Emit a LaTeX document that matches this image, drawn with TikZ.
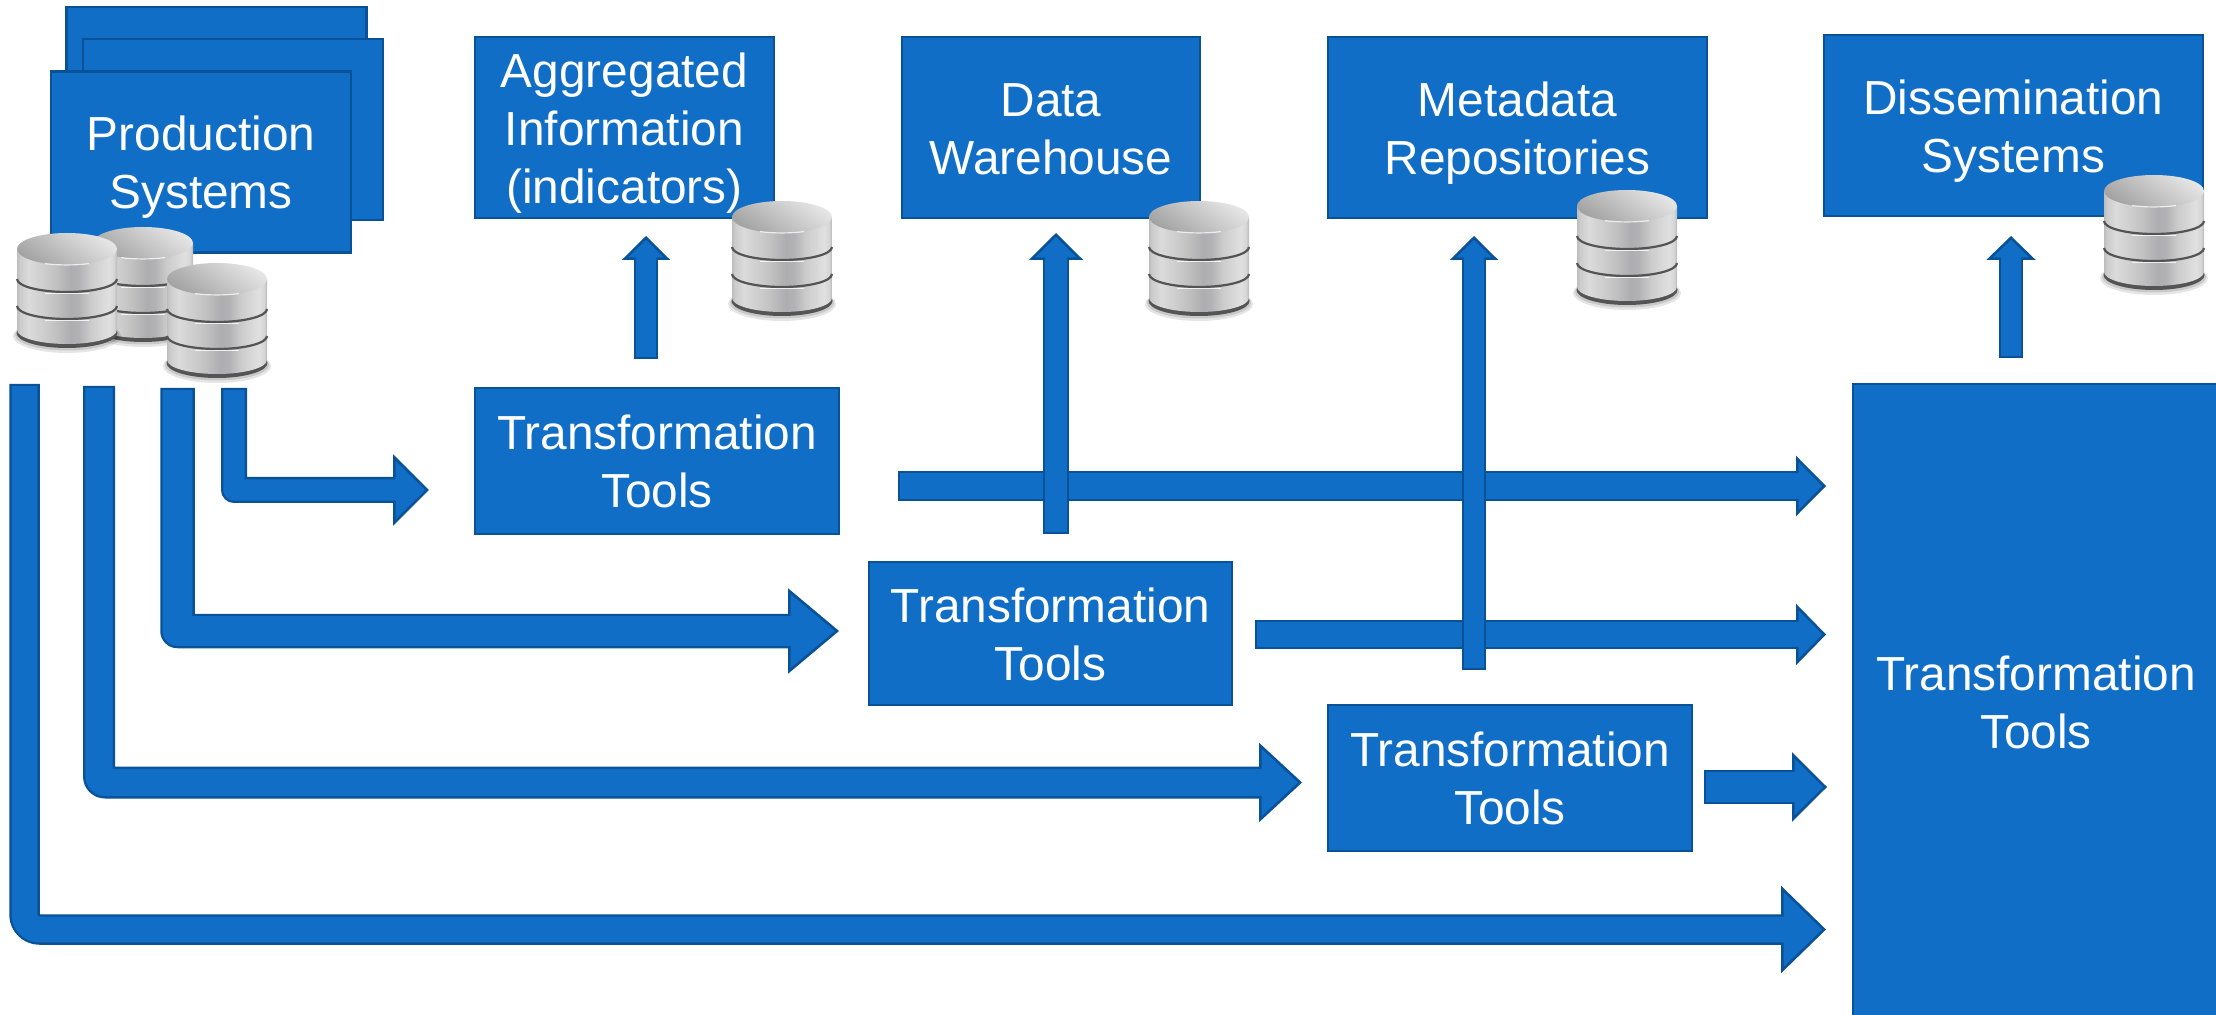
\documentclass[tikz,border=0pt]{standalone}
\usepackage{fontspec}
\setmainfont{Liberation Sans}
\usetikzlibrary{arrows.meta,positioning}
\definecolor{boxblue}{RGB}{16,110,198}
\definecolor{edgeblue}{RGB}{10,82,152}
\definecolor{dbdark}{gray}{0.33}
\definecolor{dblight}{gray}{0.9}
\definecolor{dbmid}{gray}{0.64}
\pgfdeclarehorizontalshading{dbbody}{100bp}{
  rgb(0bp)=(0.74,0.74,0.74);
  rgb(25bp)=(0.74,0.74,0.74);
  rgb(26.5bp)=(0.80,0.80,0.80);
  rgb(31bp)=(0.86,0.86,0.86);
  rgb(44bp)=(0.76,0.76,0.76);
  rgb(52bp)=(0.68,0.68,0.69);
  rgb(56bp)=(0.70,0.70,0.71);
  rgb(62bp)=(0.80,0.80,0.80);
  rgb(71bp)=(0.88,0.88,0.88);
  rgb(73.5bp)=(0.84,0.84,0.84);
  rgb(75bp)=(0.72,0.72,0.72);
  rgb(100bp)=(0.72,0.72,0.72)}
\newcommand\txstrut{\rule[-5.7pt]{0pt}{29pt}}
\tikzset{
  x=0.5pt,y=-0.5pt,
  box/.style n args={2}{draw=edgeblue,fill=boxblue,line width=1.3pt,text=white,
    align=center,inner sep=0pt,outer sep=0pt,
    minimum width=#1*0.5pt,minimum height=#2*0.5pt,
    font=\fontsize{23.9}{29}\selectfont},
  dbicon/.pic={
    \fill[black,opacity=.10] (50,103) ellipse[x radius=54,y radius=17];
    \fill[black,opacity=.12] (50,102) ellipse[x radius=52,y radius=15.5];
    \fill[dbdark] (50,100) ellipse[x radius=50.5,y radius=15];
    \path[shading=dbbody] (0,16) -- (0,97) arc[start angle=180,end angle=0,x radius=50,y radius=14] -- (100,16) -- cycle;
    \draw[dbdark,line width=1.1pt] (0,46) arc[start angle=180,end angle=0,x radius=50,y radius=13];
    \draw[dbdark,line width=1.1pt] (0,73) arc[start angle=180,end angle=0,x radius=50,y radius=13];
    \draw[white,opacity=.8,line width=.5pt] (28,61) -- (72,61);
    \draw[white,opacity=.8,line width=.5pt] (28,88) -- (72,88);
    \path[top color=dblight,bottom color=dbmid,shading angle=-35] (50,16) ellipse[x radius=50,y radius=16];
    \draw[white,opacity=.75,line width=.6pt] (28,30.6) .. controls (42,32.4) and (58,32.4) .. (72,30.6);
  }
}
\newcommand\blockarrow[5]{%
  \pgfmathsetmacro\bawid{#1*0.5}\pgfmathsetmacro\bainn{(#1-4.6)*0.5}%
  \pgfmathsetmacro\balen{#2*0.5}\pgfmathsetmacro\bahd{#3*0.5}%
  \pgfmathsetmacro\barad{#4*0.5+0.01}\pgfmathsetmacro\bashort{(#2-3)*0.5}%
  \draw[draw=edgeblue,line width=\bawid pt,line join=round,rounded corners=\barad pt,
    -{Triangle[length=\balen pt,width=\bahd pt,fill=boxblue,line width=1.3pt]}] #5;
  \draw[draw=boxblue,line width=\bainn pt,line join=round,rounded corners=\barad pt,
    shorten <=1.1pt,shorten >=\bashort pt] #5;
}
\begin{document}
\begin{tikzpicture}
\useasboundingbox (0,0) rectangle (2216,1015);
% boxes
\node[box={300}{181}] (prodback) at (216.5,97.5) {};
\node[box={300}{181}] (prodmid) at (233,129.5) {};
\node[box={300}{181}] (prod) at (201,162) {\txstrut Production\\Systems\txstrut};
\node[box={299}{181}] (agg) at (624.5,127.5) {\txstrut Aggregated\\Information\\(indicators)\txstrut};
\node[box={298}{181}] (dw) at (1051,127.5) {\txstrut Data\\Warehouse\txstrut};
\node[box={379}{181}] (meta) at (1517.5,127.5) {\txstrut Metadata\\Repositories\txstrut};
\node[box={379}{181}] (diss) at (2013.5,125.5) {\txstrut Dissemination\\Systems\txstrut};
\node[box={364}{146}] (t1) at (657,461) {\txstrut Transformation\\Tools\txstrut};
\node[box={363}{143}] (t2) at (1050.5,633.5) {\txstrut Transformation\\Tools\txstrut};
\node[box={364}{146}] (t3) at (1510,778) {\txstrut Transformation\\Tools\txstrut};
\node[box={366}{636}] (t4) at (2036,702) {\txstrut Transformation\\Tools\txstrut};
% connector end points
\coordinate (a1s) at (234,388);   \coordinate (a1e) at (429,490);
\coordinate (a2s) at (177.5,388); \coordinate (a2e) at (839,631);
\coordinate (a3s) at (99,386);    \coordinate (a3e) at (1302,782.5);
\coordinate (a4s) at (24.5,384);  \coordinate (a4e) at (1826,929.5);
\coordinate (h1s) at (898,486);   \coordinate (h1e) at (1826,486);
\coordinate (h2s) at (1255,634.5);\coordinate (h2e) at (1826,634.5);
\coordinate (h3s) at (1704,787);  \coordinate (h3e) at (1827,787);
\coordinate (v1s) at (646,359);   \coordinate (v1e) at (646,236);
\coordinate (v2s) at (1056,534);  \coordinate (v2e) at (1056,233);
\coordinate (v3s) at (1474,670);  \coordinate (v3e) at (1474,236);
\coordinate (v4s) at (2011,358);  \coordinate (v4e) at (2011,236);
% connectors
\blockarrow{26}{36}{71}{0}{(a1s) |- (a1e)}
\blockarrow{34.5}{51}{85}{0}{(a2s) |- (a2e)}
\blockarrow{32}{43}{79}{6}{(a3s) |- (a3e)}
\blockarrow{30.5}{45}{87}{15}{(a4s) |- (a4e)}
\blockarrow{30}{30}{60}{0}{(h1s) -- (h1e)}
\blockarrow{29}{30}{61}{0}{(h2s) -- (h2e)}
\blockarrow{34}{35}{69}{0}{(h3s) -- (h3e)}
\blockarrow{24}{24}{48}{0}{(v1s) -- (v1e)}
\blockarrow{26}{27}{54}{0}{(v2s) -- (v2e)}
\blockarrow{24}{24}{48}{0}{(v3s) -- (v3e)}
\blockarrow{24}{24}{49}{0}{(v4s) -- (v4e)}
% database icons
\pic (dbprodb) at (93,227) {dbicon};
\pic (dbproda) at (17,233) {dbicon};
\pic (dbprodc) at (167,263) {dbicon};
\pic (dbagg) at (732,201) {dbicon};
\pic (dbdw) at (1149,201) {dbicon};
\pic (dbmeta) at (1577,190) {dbicon};
\pic (dbdiss) at (2104,175) {dbicon};
\end{tikzpicture}
\end{document}
